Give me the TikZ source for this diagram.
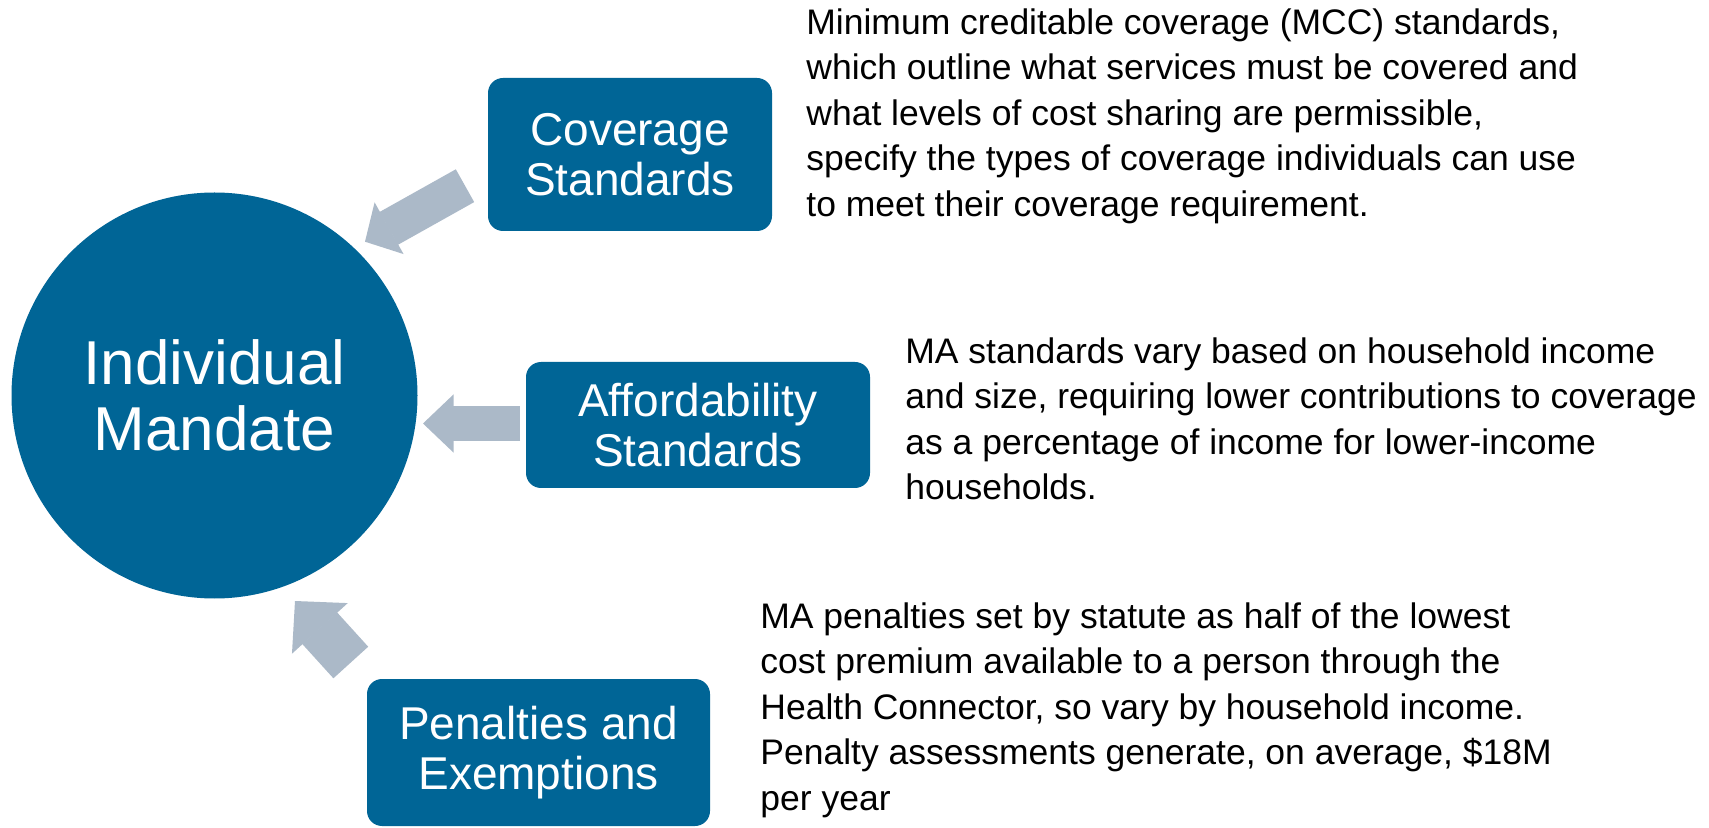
\documentclass[tikz,border=0pt]{standalone}
\usepackage{fontspec}
\setmainfont{Liberation Sans}
\usetikzlibrary{arrows.meta}
\definecolor{mainblue}{RGB}{0,101,150}
\definecolor{arrowgray}{RGB}{171,185,200}
\begin{document}
\begin{tikzpicture}[x=0.5pt,y=-0.5pt,
  blockbox/.style={fill=mainblue, rounded corners=7.5pt, text=white, align=center,
    font=\fontsize{23pt}{25pt}\selectfont, inner sep=0pt},
  desc/.style={anchor=north west, inner sep=0pt, align=left,
    font=\fontsize{17.75pt}{22.75pt}\selectfont, text=black},
  bigarrow/.style n args={3}{draw=arrowgray, line width=#1,
    -{Triangle[width=#2, length=#3, line width=0.8pt]}}
]
\useasboundingbox[fill=white] (0,0) rectangle (1709,828);

% central circle
\node[circle, fill=mainblue, minimum size=203pt, inner sep=0pt, text=white, align=center,
  font=\fontsize{31pt}{33.25pt}\selectfont] (im) at (214.5,395.5) {Individual\\Mandate};

% boxes
\node[blockbox, minimum width=142pt, minimum height=76.5pt] (cs) at (630,154.5) {Coverage\\Standards};
\node[blockbox, minimum width=172pt, minimum height=63pt] (as) at (698,425) {Affordability\\Standards};
\node[blockbox, minimum width=171.5pt, minimum height=73.5pt] (pe) at (538.5,752.5) {Penalties and\\Exemptions};

% arrow end points
\coordinate (a1s) at (465,185.7);
\coordinate (a1e) at (365,241.7);
\coordinate (a2s) at (520,423.5);
\coordinate (a2e) at (423,423.5);
\coordinate (a3s) at (350.8,662.5);
\coordinate (a3e) at (295,601);

\draw[bigarrow={18.8pt}{29.5pt}{13.8pt}] (a1s) -- (a1e);
\draw[bigarrow={17.5pt}{29pt}{15.3pt}] (a2s) -- (a2e);
\draw[bigarrow={23.5pt}{37.5pt}{18.5pt}] (a3s) -- (a3e);

% descriptions
\node[desc] (d1) at (806,8) {Minimum creditable coverage (MCC) standards,\\
which outline what services must be covered and\\
what levels of cost sharing are permissible,\\
specify the types of coverage individuals can use\\
to meet their coverage requirement.};

\node[desc] (d2) at (905,337) {MA standards vary based on household income\\
and size, requiring lower contributions to coverage\\
as a percentage of income for lower-income\\
households.};

\node[desc] (d3) at (760,602) {MA penalties set by statute as half of the lowest\\
cost premium available to a person through the\\
Health Connector, so vary by household income.\\
Penalty assessments generate, on average, \$18M\\
per year};
\end{tikzpicture}
\end{document}
